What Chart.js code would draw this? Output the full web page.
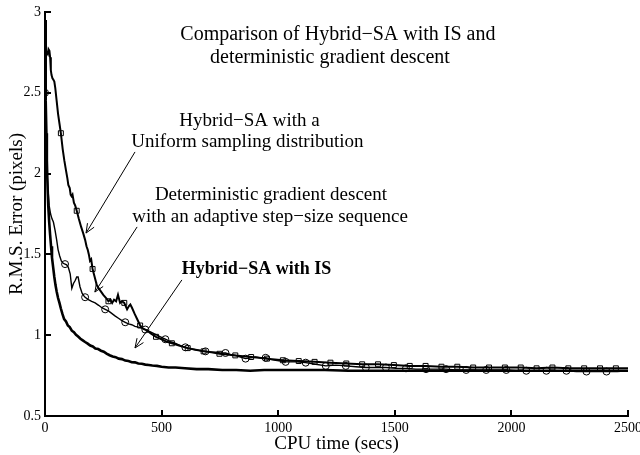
<!DOCTYPE html>
<html>
<head>
<meta charset="utf-8">
<script src="https://cdn.jsdelivr.net/npm/chart.js@4"></script>
<style>
  html, body { margin: 0; padding: 0; background: #fff; }
  #wrap { width: 640px; height: 455px; }
</style>
</head>
<body>
<div id="wrap"><canvas id="chart" width="640" height="455"></canvas></div>
<script>
// CPU time (secs) and RMS error (pixels) for each method

// Hybrid-SA with IS
const isTime = [0, 2, 4, 6, 8, 11, 14, 18, 22, 26, 30, 35, 40, 45, 50, 56, 62, 68, 75, 82,
    90, 98, 106, 115, 124, 133, 142, 152, 162, 172, 183, 194, 205, 216, 228, 240, 252, 264, 277, 290,
    303, 316, 330, 344, 358, 372, 386, 400, 415, 430, 445, 460, 480, 500, 530, 560, 600, 650, 700, 760,
    820, 880, 940, 1000, 1100, 1200, 1300, 1400, 1500, 1600, 1700, 1800, 1900, 2000, 2100, 2200, 2300, 2400, 2500];
const isRms = [2.95, 2.70, 2.45, 2.25, 2.08, 1.92, 1.80, 1.70, 1.62, 1.55, 1.48, 1.42, 1.36, 1.31, 1.27, 1.23, 1.20, 1.165, 1.13, 1.10,
    1.085, 1.06, 1.05, 1.028, 1.018, 1.002, 0.992, 0.978, 0.968, 0.958, 0.948, 0.936, 0.93, 0.918, 0.914, 0.904, 0.898, 0.886, 0.876, 0.868,
    0.864, 0.855, 0.852, 0.843, 0.840, 0.833, 0.832, 0.825, 0.823, 0.818, 0.816, 0.812, 0.81, 0.805, 0.80, 0.80, 0.795, 0.79, 0.79, 0.785,
    0.785, 0.78, 0.785, 0.785, 0.785, 0.785, 0.78, 0.78, 0.78, 0.78, 0.78, 0.78, 0.78, 0.78, 0.78, 0.78, 0.78, 0.78, 0.78];

// Hybrid-SA with a uniform sampling distribution (square markers)
const uniTime = [0, 4, 8, 12, 15, 19, 22, 25, 28, 32, 36, 40, 44, 50, 56, 62, 68, 76, 83, 90,
    96, 100, 106, 110, 114, 118, 124, 130, 136, 145, 155, 164, 172, 178, 183, 188, 193, 198, 204, 213,
    222, 235, 250, 262, 272, 280, 288, 296, 305, 313, 322, 330, 340, 352, 360, 366, 373, 385, 395, 408,
    420, 437, 455, 476, 500, 520, 544, 578, 612, 646, 680, 714, 748, 782, 816, 850, 884, 918, 952, 986,
    1020, 1088, 1156, 1224, 1292, 1360, 1428, 1496, 1564, 1632, 1700, 1768, 1836, 1904, 1972, 2040, 2108, 2176, 2244, 2312,
    2380, 2448, 2500];
const uniRms = [2.74, 2.74, 2.75, 2.74, 2.77, 2.76, 2.72, 2.64, 2.61, 2.59, 2.58, 2.57, 2.53, 2.45, 2.37, 2.31, 2.25, 2.15, 2.08, 2.02,
    1.97, 1.93, 1.91, 1.87, 1.86, 1.87, 1.82, 1.80, 1.77, 1.72, 1.67, 1.63, 1.59, 1.55, 1.53, 1.50, 1.46, 1.47, 1.41, 1.36,
    1.31, 1.28, 1.25, 1.23, 1.21, 1.22, 1.20, 1.22, 1.21, 1.25, 1.20, 1.21, 1.20, 1.16, 1.18, 1.19, 1.17, 1.13, 1.10, 1.06,
    1.04, 1.03, 1.01, 0.99, 0.975, 0.96, 0.95, 0.935, 0.92, 0.91, 0.90, 0.895, 0.885, 0.88, 0.875, 0.87, 0.865, 0.86, 0.855, 0.85,
    0.845, 0.84, 0.835, 0.83, 0.825, 0.82, 0.82, 0.815, 0.81, 0.81, 0.805, 0.805, 0.80, 0.80, 0.80, 0.80, 0.795, 0.80, 0.795, 0.795,
    0.795, 0.795, 0.795];
const uniMarkStep = 68;

// Deterministic gradient descent, adaptive step size (circle markers)
const detTime = [0, 3, 6, 9, 13, 18, 24, 30, 36, 43, 50, 56, 63, 70, 78, 86, 93, 100, 108, 115,
    122, 130, 136, 142, 150, 159, 166, 172, 186, 200, 215, 230, 244, 258, 272, 286, 300, 315, 330, 344,
    358, 372, 386, 400, 415, 430, 452, 474, 495, 516, 538, 560, 580, 602, 624, 645, 666, 688, 710, 731,
    752, 774, 796, 817, 838, 860, 882, 903, 924, 946, 968, 989, 1010, 1032, 1075, 1118, 1161, 1204, 1247, 1290,
    1333, 1376, 1419, 1462, 1505, 1548, 1591, 1634, 1677, 1720, 1763, 1806, 1849, 1892, 1935, 1978, 2021, 2064, 2107, 2150,
    2193, 2236, 2279, 2322, 2365, 2408, 2454, 2500];
const detRms = [2.50, 2.30, 2.12, 2.00, 1.90, 1.80, 1.75, 1.72, 1.70, 1.65, 1.59, 1.53, 1.49, 1.46, 1.445, 1.44, 1.435, 1.42, 1.38, 1.29,
    1.32, 1.34, 1.36, 1.36, 1.30, 1.26, 1.245, 1.235, 1.22, 1.21, 1.20, 1.185, 1.17, 1.16, 1.15, 1.135, 1.12, 1.105, 1.09, 1.08,
    1.07, 1.065, 1.055, 1.05, 1.045, 1.035, 1.02, 1.005, 0.99, 0.975, 0.96, 0.95, 0.935, 0.925, 0.915, 0.91, 0.905, 0.90, 0.895, 0.895,
    0.89, 0.89, 0.88, 0.875, 0.865, 0.855, 0.86, 0.865, 0.86, 0.86, 0.85, 0.845, 0.84, 0.835, 0.835, 0.83, 0.82, 0.81, 0.815, 0.81,
    0.805, 0.80, 0.80, 0.80, 0.795, 0.795, 0.79, 0.79, 0.79, 0.79, 0.785, 0.785, 0.785, 0.785, 0.785, 0.785, 0.78, 0.78, 0.78, 0.78,
    0.78, 0.78, 0.775, 0.775, 0.775, 0.775, 0.775, 0.78];
const detMarkStep = 86;

const xTickValues = [0, 500, 1000, 1500, 2000, 2500];
const yTickValues = [0.5, 1, 1.5, 2, 2.5, 3];

// Text annotations, positioned in data units
const SERIF = "'Liberation Serif', 'DejaVu Serif', serif";
const notes = [
    { text: 'Comparison of Hybrid\u2212SA with IS and', x: 1256, y: 2.827, size: 20 },
    { text: 'deterministic gradient descent', x: 1222, y: 2.684, size: 20 },
    { text: 'Hybrid\u2212SA with a', x: 877, y: 2.295, size: 19 },
    { text: 'Uniform sampling distribution', x: 868, y: 2.165, size: 19 },
    { text: 'Deterministic gradient descent', x: 969, y: 1.837, size: 19 },
    { text: 'with an adaptive step\u2212size sequence', x: 965, y: 1.70, size: 19 },
    { text: 'Hybrid\u2212SA with IS', x: 907, y: 1.379, size: 18, bold: true },
];
const arrows = [
    { from: [386, 2.134], to: [176, 1.632] },
    { from: [395, 1.670], to: [214, 1.267] },
    { from: [587, 1.342], to: [386, 0.921] },
];

function pairs(xs, ys) {
    return xs.map((x, i) => ({ x, y: ys[i] }));
}

const figurePlugin = {
    id: 'figure',
    afterDraw(chart) {
        const ctx = chart.ctx;
        const xs = chart.scales.x;
        const ys = chart.scales.y;
        const area = chart.chartArea;
        ctx.save();
        ctx.strokeStyle = '#000';
        ctx.fillStyle = '#000';

        // inward tick marks
        ctx.lineWidth = 2;
        ctx.beginPath();
        yTickValues.forEach((v) => {
            const py = Math.round(ys.getPixelForValue(v));
            ctx.moveTo(area.left, py);
            ctx.lineTo(area.left + 6, py);
        });
        xTickValues.forEach((v) => {
            const px = Math.round(xs.getPixelForValue(v));
            ctx.moveTo(px, area.bottom);
            ctx.lineTo(px, area.bottom - 6);
        });
        ctx.stroke();

        // annotations
        ctx.textAlign = 'center';
        ctx.textBaseline = 'alphabetic';
        notes.forEach((n) => {
            ctx.font = (n.bold ? 'bold ' : '') + n.size + 'px ' + SERIF;
            ctx.fillText(n.text, xs.getPixelForValue(n.x), ys.getPixelForValue(n.y));
        });

        // arrows
        ctx.lineWidth = 1;
        arrows.forEach((a) => {
            const x1 = xs.getPixelForValue(a.from[0]);
            const y1 = ys.getPixelForValue(a.from[1]);
            const x2 = xs.getPixelForValue(a.to[0]);
            const y2 = ys.getPixelForValue(a.to[1]);
            const ang = Math.atan2(y2 - y1, x2 - x1);
            const len = 10;
            ctx.beginPath();
            ctx.moveTo(x1, y1);
            ctx.lineTo(x2, y2);
            ctx.moveTo(x2 - len * Math.cos(ang - 0.4), y2 - len * Math.sin(ang - 0.4));
            ctx.lineTo(x2, y2);
            ctx.lineTo(x2 - len * Math.cos(ang + 0.4), y2 - len * Math.sin(ang + 0.4));
            ctx.stroke();
        });

        // axis titles
        ctx.font = '19px ' + SERIF;
        ctx.textBaseline = 'middle';
        ctx.fillText('CPU time (secs)', (area.left + area.right) / 2, 444);
        ctx.translate(17, (area.top + area.bottom) / 2);
        ctx.rotate(-Math.PI / 2);
        ctx.fillText('R.M.S. Error (pixels)', 0, 0);
        ctx.restore();
    },
};

const markerRadius = (step, skipZero) => (c) => {
    const x = c.raw ? c.raw.x : -1;
    if (skipZero && x === 0) return 0;
    return x % step === 0 ? 3.5 : 0;
};

new Chart(document.getElementById('chart'), {
    type: 'line',
    data: {
        datasets: [
            {
                label: 'Hybrid-SA with IS',
                data: pairs(isTime, isRms),
                borderColor: '#000',
                borderWidth: 2.6,
                pointRadius: 0,
            },
            {
                label: 'Hybrid-SA, uniform sampling',
                data: pairs(uniTime, uniRms),
                borderColor: '#000',
                borderWidth: 2,
                pointStyle: 'rect',
                pointRadius: markerRadius(uniMarkStep, true),
                pointBorderColor: '#000',
                pointBackgroundColor: 'rgba(0,0,0,0)',
                pointBorderWidth: 1,
            },
            {
                label: 'Deterministic gradient descent',
                data: pairs(detTime, detRms),
                borderColor: '#000',
                borderWidth: 1.4,
                pointStyle: 'circle',
                pointRadius: markerRadius(detMarkStep, false),
                pointBorderColor: '#000',
                pointBackgroundColor: 'rgba(0,0,0,0)',
                pointBorderWidth: 1,
            },
        ],
    },
    options: {
        responsive: false,
        animation: false,
        events: [],
        layout: { padding: { top: 12, right: 12, left: 0, bottom: 0 } },
        elements: { line: { tension: 0 } },
        plugins: {
            legend: { display: false },
            tooltip: { enabled: false },
        },
        scales: {
            x: {
                type: 'linear',
                min: 0,
                max: 2500,
                afterBuildTicks: (s) => { s.ticks = xTickValues.map((v) => ({ value: v })); },
                afterFit: (s) => {
                    s.height = 39;
                    s.paddingLeft = 0;
                    s.paddingRight = 0;
                },
                grid: { drawOnChartArea: false, drawTicks: false },
                border: { color: '#000', width: 2 },
                ticks: {
                    color: '#000',
                    padding: 4,
                    maxRotation: 0,
                    callback: (v) => String(v),
                    font: { family: SERIF, size: 14 },
                },
            },
            y: {
                type: 'linear',
                min: 0.5,
                max: 3,
                afterBuildTicks: (s) => { s.ticks = yTickValues.map((v) => ({ value: v })); },
                afterFit: (s) => {
                    s.width = 45;
                    s.paddingTop = 0;
                    s.paddingBottom = 0;
                },
                grid: { drawOnChartArea: false, drawTicks: false },
                border: { color: '#000', width: 2 },
                ticks: {
                    color: '#000',
                    padding: 4,
                    callback: (v) => String(v),
                    font: { family: SERIF, size: 14 },
                },
            },
        },
    },
    plugins: [figurePlugin],
});
</script>
</body>
</html>
